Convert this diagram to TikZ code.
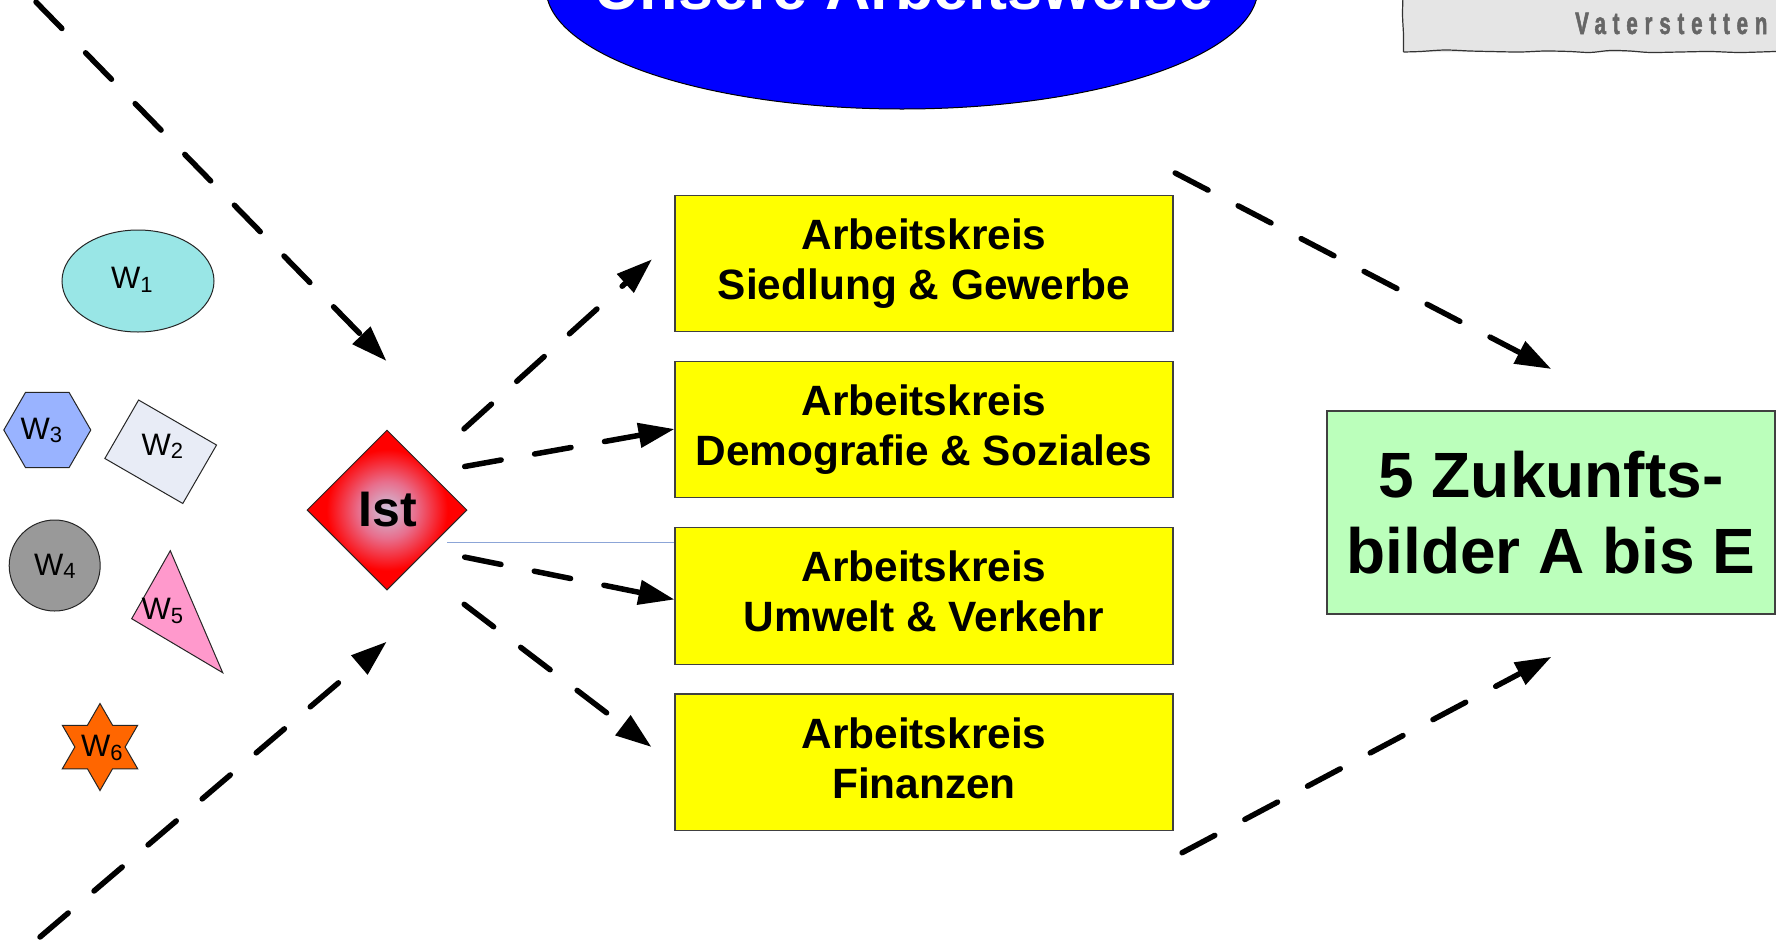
\documentclass[tikz,border=0pt]{standalone}
\usepackage{fontspec}
\setmainfont{Liberation Sans}
\newfontfamily\vatfont[FakeStretch=0.66,LetterSpace=22,FakeBold=1.6]{Liberation Sans Bold}
\usetikzlibrary{arrows.meta,shapes.geometric}
\definecolor{akyellow}{RGB}{255,255,0}
\definecolor{zgreen}{RGB}{187,255,187}
\definecolor{tblue}{RGB}{0,0,255}
\definecolor{vgray}{RGB}{229,229,229}
\definecolor{vtext}{RGB}{102,102,102}
\definecolor{wone}{RGB}{153,230,230}
\definecolor{wtwo}{RGB}{232,236,246}
\definecolor{wthree}{RGB}{153,179,255}
\definecolor{wfour}{RGB}{153,153,153}
\definecolor{wfive}{RGB}{255,153,204}
\definecolor{wsix}{RGB}{255,102,0}
\definecolor{istc}{RGB}{205,196,222}
\definecolor{istm}{RGB}{232,110,140}
\definecolor{istr}{RGB}{255,0,0}
\definecolor{lineblue}{RGB}{140,165,215}
\pgfdeclareradialshading{istshade}{\pgfpoint{0bp}{0bp}}{color(0bp)=(istc); color(9bp)=(istm); color(19bp)=(istr); color(50bp)=(istr)}
\newcommand{\wsub}[1]{\raisebox{-3.7pt}{\fontsize{22}{22}\selectfont #1}}
\begin{document}
\begin{tikzpicture}[x=1pt,y=-1pt,
  akbox/.style={draw=black!75, line width=1.2pt, fill=akyellow, minimum width=498pt, minimum height=136.5pt, inner sep=0pt, align=center, font=\fontsize{42.4}{50}\selectfont\bfseries, execute at begin node={\rule{0pt}{34pt}}, execute at end node={\vphantom{g}}},
  dasharrow/.style={line width=5.5pt, line cap=round, dash pattern=on 37pt off 34pt, -{Triangle[length=36pt,width=24pt]}},
  wlabel/.style={anchor=base west, inner sep=0pt, font=\fontsize{31}{31}\selectfont},
  shapeline/.style={draw=black!85, line width=1pt}]
\useasboundingbox (0,0) rectangle (1776,943);
\fill[white] (0,0) rectangle (1776,943);
\clip (0,0) rectangle (1776,943);

% title
\node[draw=black, line width=1pt, fill=tblue, ellipse, minimum width=712pt, minimum height=242pt, inner sep=0pt] (titleell) at (902,-12) {};
\node[text=white, font=\fontsize{63}{63}\selectfont\bfseries, anchor=base, inner sep=0pt] (title) at (904,9) {Unsere Arbeitsweise};

% Vaterstetten box
\fill[vgray] (1403,-5) -- (1403.5,52) -- (1790,52) -- (1790,-5) -- cycle;
\draw[black!80, line width=1.2pt] plot[smooth] coordinates {(1403,-4) (1402.5,15) (1403.5,35) (1403.5,52)};
\draw[black!80, line width=1.2pt] plot[smooth] coordinates {(1403.5,52) (1420,51.5) (1445,50) (1470,51) (1490,51.5) (1520,52) (1545,51) (1570,51.5) (1590,52.5) (1610,50.5) (1630,51) (1650,52.5) (1680,52) (1710,51.5) (1740,52.5) (1776,51.5) (1790,52)};
\node[anchor=base west, inner sep=0pt, text=vtext, font=\vatfont\fontsize{31}{31}\selectfont] (vat) at (1575,34) {Vaterstetten};

% W shapes
\node[ellipse, shapeline, fill=wone, minimum width=152pt, minimum height=102pt, inner sep=0pt] (w1) at (138,281) {};
\node[wlabel] (w1t) at (111,288.3) {W\wsub{1}};
\node[regular polygon, regular polygon sides=6, minimum size=87pt, inner sep=0pt, shapeline, fill=wthree] (w3) at (47.3,430) {};
\node[wlabel] (w3t) at (20.5,439) {W\wsub{3}};
\node[rectangle, shapeline, fill=wtwo, minimum width=90pt, minimum height=67.5pt, inner sep=0pt, rotate=-30] (w2) at (160.7,451.75) {};
\node[wlabel] (w2t) at (141.5,455) {W\wsub{2}};
\node[circle, shapeline, fill=wfour, minimum size=91pt, inner sep=0pt] (w4) at (54.7,565.5) {};
\node[wlabel] (w4t) at (34,575) {W\wsub{4}};
\draw[shapeline, fill=wfive] (170.3,550.7) -- (131.7,618.7) -- (222.7,672.7) -- cycle;
\node[wlabel] (w5t) at (141.5,619.3) {W\wsub{5}};
\node[star, star points=6, star point ratio=1.732, minimum size=87pt, inner sep=0pt, shapeline, fill=wsix] (w6) at (100,747) {};
\node[wlabel] (w6t) at (81,756.7) {W\wsub{6}};

% Ist
\node[diamond, draw=black!85, line width=1pt, shade, shading=istshade, minimum width=160pt, minimum height=160pt, inner sep=0pt, font=\fontsize{50}{50}\selectfont\bfseries] (ist) at (387,510) {\hspace{2pt}Ist};

% Arbeitskreise
\node[akbox] (ak1) at (924,263.5) {Arbeitskreis\\Siedlung \& Gewerbe};
\node[akbox] (ak2) at (924,429.5) {Arbeitskreis\\Demografie \& Soziales};
\node[akbox] (ak3) at (924,596) {Arbeitskreis\\Umwelt \& Verkehr};
\node[akbox] (ak4) at (924,762.3) {Arbeitskreis\\Finanzen};

% thin line
\coordinate (bls) at (447,542.5);
\draw[lineblue, line width=1.5pt] (bls) -- (bls -| ak3.west);

% Zukunftsbilder
\node[draw=black!75, line width=1.2pt, fill=zgreen, minimum width=448pt, minimum height=203pt, inner sep=0pt, align=center, font=\fontsize{64}{76}\selectfont\bfseries] (zb) at (1551,512.5) {5 Zukunfts-\\bilder A bis E};

% arrows
\coordinate (a1s) at (36,2);      \coordinate (a1e) at (386.5,361);
\coordinate (a2s) at (40,937);    \coordinate (a2e) at (386.7,641.7);
\coordinate (a3s) at (464,428.9); \coordinate (a3e) at (652,259.3);
\coordinate (a4s) at (464.7,466.5); \coordinate (a4e) at (674.5,429);
\coordinate (a5s) at (464.7,557.1); \coordinate (a5e) at (674.5,599.5);
\coordinate (a6s) at (464.2,604.3); \coordinate (a6e) at (651.5,747);
\coordinate (a7s) at (1175.2,173); \coordinate (a7e) at (1551.3,369);
\coordinate (a8s) at (1182.1,852.7); \coordinate (a8e) at (1551.4,656.8);
\draw[dasharrow] (a1s) -- (a1e);
\draw[dasharrow] (a2s) -- (a2e);
\draw[dasharrow] (a3s) -- (a3e);
\draw[dasharrow] (a4s) -- (a4e);
\draw[dasharrow] (a5s) -- (a5e);
\draw[dasharrow] (a6s) -- (a6e);
\draw[dasharrow] (a7s) -- (a7e);
\draw[dasharrow] (a8s) -- (a8e);
\end{tikzpicture}
\end{document}
